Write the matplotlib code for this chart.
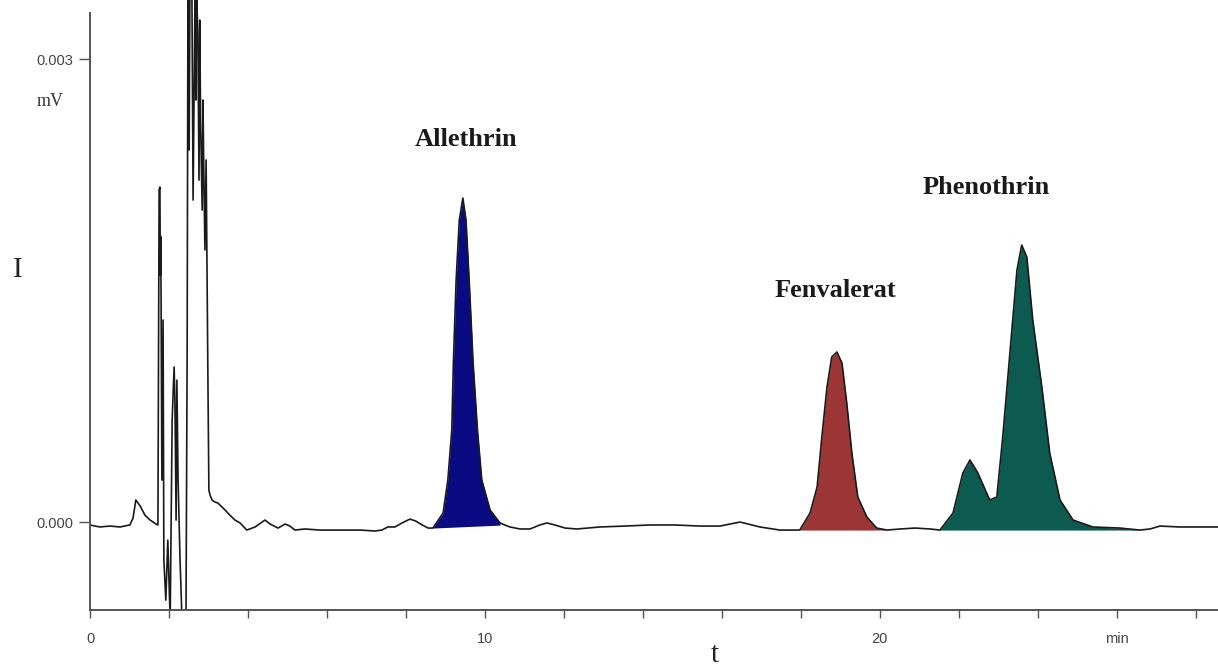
import matplotlib
matplotlib.use("Agg")
import matplotlib.pyplot as plt
import numpy as np

# Chromatogram trace: retention time (min) and detector signal (µV, shown as mV*1000)
time_min = [0.00, 0.25, 0.51, 0.76, 1.01, 1.09, 1.16, 1.27, 1.39, 1.52, 1.67, 1.72,
            1.75, 1.77, 1.78, 1.79, 1.80, 1.82, 1.85, 1.87, 1.92, 1.97, 2.03, 2.08, 2.13, 2.15, 2.18, 2.20,
            2.23, 2.28, 2.33, 2.38, 2.43, 2.46, 2.48, 2.51, 2.53, 2.58, 2.61, 2.66, 2.68, 2.70, 2.73,
            2.76, 2.78, 2.80, 2.84, 2.86, 2.88, 2.91, 2.94, 2.96, 2.99, 3.01, 3.04,
            3.09, 3.16, 3.24, 3.29, 3.42, 3.54, 3.67, 3.80, 3.97, 4.18, 4.43, 4.56, 4.76, 4.94,
            5.06, 5.19, 5.44, 5.82, 6.33, 6.84, 7.22, 7.39, 7.54, 7.72, 7.90, 8.10, 8.25, 8.41,
            8.56, 8.68,
            8.94, 9.06, 9.16, 9.20, 9.27, 9.35, 9.44, 9.52, 9.60, 9.70, 9.81, 9.92, 10.13, 10.38,
            10.63,
            10.89, 11.14, 11.39, 11.57, 11.77, 12.03, 12.33, 12.91, 13.54, 14.18, 14.81, 15.44,
            15.95, 16.46, 16.96, 17.47, 17.85,
            17.97, 18.23, 18.41, 18.53, 18.66, 18.78, 18.91, 19.04, 19.16, 19.29, 19.44, 19.67,
            19.92, 20.18,
            20.51, 20.89, 21.27, 21.52,
            21.85, 22.10, 22.28, 22.48, 22.78, 22.96, 23.11, 23.29, 23.47, 23.59, 23.72, 23.87,
            24.10, 24.30, 24.56, 24.89, 25.39, 26.08, 26.58,
            26.84, 27.09, 27.59, 28.10, 28.56]
signal_uv = [-0.019, -0.032, -0.026, -0.032, -0.019, 0.026, 0.143, 0.104, 0.045, 0.013, -0.013, -0.019,
             2.152, 2.171, 1.60, 1.85, 1.439, 0.272, 1.309, -0.246, -0.506, -0.117, -0.635, 0.661, 1.005, 0.791, 0.013, 0.920,
             0.272, -0.246, -0.635, -0.700, -0.635, 1.115, 3.448, 2.411, 3.448, 3.448, 2.087, 3.448, 2.735, 3.40, 3.189,
             2.216, 3.253, 2.60, 2.022, 2.735, 2.30, 1.763, 2.346, 1.698, 0.791, 0.207, 0.175,
             0.143, 0.130, 0.123, 0.110, 0.078, 0.045, 0.013, -0.006, -0.052, -0.032, 0.013, -0.013, -0.039, -0.013,
             -0.026, -0.052, -0.045, -0.052, -0.052, -0.052, -0.058, -0.052, -0.032, -0.032, -0.006, 0.019, 0.006, -0.019,
             -0.039, -0.039,
             0.058, 0.272, 0.596, 1.030, 1.568, 1.957, 2.100, 1.957, 1.568, 1.030, 0.596, 0.272, 0.078, -0.006,
             -0.032,
             -0.045, -0.045, -0.019, -0.006, -0.019, -0.039, -0.045, -0.032, -0.026, -0.019, -0.019, -0.026,
             -0.026, 0.000, -0.032, -0.052, -0.052,
             -0.052, 0.058, 0.227, 0.551, 0.875, 1.069, 1.102, 1.030, 0.771, 0.447, 0.162, 0.032,
             -0.039, -0.052,
             -0.045, -0.039, -0.045, -0.052,
             0.058, 0.318, 0.402, 0.318, 0.143, 0.162, 0.551, 1.095, 1.633, 1.795, 1.717, 1.309,
             0.875, 0.447, 0.143, 0.013, -0.032, -0.039, -0.052,
             -0.045, -0.026, -0.032, -0.032, -0.032]

# Integrated peaks: name, start, end (min), fill colour, label position
peak_names = ["Allethrin", "Fenvalerat", "Phenothrin"]
peak_start = [8.68, 17.97, 21.52]
peak_end = [10.50, 20.18, 26.58]
peak_colors = ["#0a0a82", "#9c3636", "#0d5a50"]
label_t = [9.53, 18.86, 22.70]
label_v = [2.48, 1.50, 2.17]

x_ticks = list(range(0, 29, 2))
x_labels = {0: "0", 10: "10", 20: "20", 26: "min"}
y_ticks = [0.0, 3.0]

t = np.array(time_min)
s = np.array(signal_uv)

fig = plt.figure(figsize=(12.18, 6.69), dpi=100)
ax = fig.add_axes([90 / 1218, 59 / 669, 1 - 90 / 1218, 610 / 669])

for name, a, b, c in zip(peak_names, peak_start, peak_end, peak_colors):
    m = (t >= a) & (t <= b)
    base = np.interp(t[m], [a, b], np.interp([a, b], t, s))
    ax.fill_between(t[m], base, s[m], color=c, lw=0, zorder=1)

ax.plot(t, s, color="#1a1a1a", lw=1.2, zorder=2)

ax.set_xlim(0, 28.56)
ax.set_ylim(-0.57, 3.383)

for sp in ["top", "right"]:
    ax.spines[sp].set_visible(False)
ax.spines["left"].set_bounds(-0.57, 3.30)
for sp in ["left", "bottom"]:
    ax.spines[sp].set_color("#555555")
    ax.spines[sp].set_linewidth(1.4)

ax.set_xticks(x_ticks)
ax.set_xticklabels([x_labels.get(v, "") for v in x_ticks])
ax.set_yticks(y_ticks)
ax.set_yticklabels([f"{v / 1000:.3f}" for v in y_ticks])
ax.tick_params(axis="x", direction="out", length=6, width=1, color="#555555",
               labelsize=10.5, labelcolor="#444444", pad=10)
ax.tick_params(axis="y", direction="out", length=8, width=1, color="#555555",
               labelsize=10.5, labelcolor="#444444", pad=4)
for lab in ax.get_xticklabels() + ax.get_yticklabels():
    lab.set_family("Liberation Sans")
    lab.set_stretch("expanded")

for name, lt, lv in zip(peak_names, label_t, label_v):
    ax.text(lt, lv, name, ha="center", va="center", fontsize=19, fontweight="bold",
            family="Liberation Serif", color="#1a1a1a")

fig.text(50 / 1218, 1 - 102 / 669, "mV", ha="center", va="center", fontsize=13,
         family="Liberation Serif", color="#333333")
fig.text(18 / 1218, 1 - 270 / 669, "I", ha="center", va="center", fontsize=21,
         family="Liberation Serif", color="#222222")
fig.text(715 / 1218, 1 - 655 / 669, "t", ha="center", va="center", fontsize=21,
         family="Liberation Serif", color="#222222")

fig.savefig("out.png", dpi=100)
